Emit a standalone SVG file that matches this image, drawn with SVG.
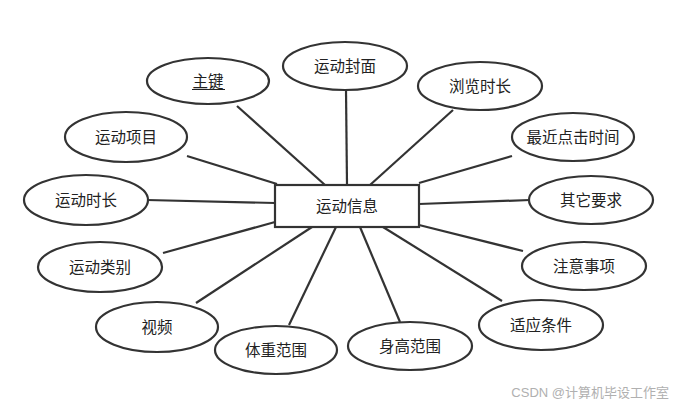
<svg xmlns="http://www.w3.org/2000/svg" width="677" height="406" viewBox="0 0 677 406">
<style>
.n{fill:#fff;stroke:#333;stroke-width:2.2}
.t{font-family:"Noto Sans CJK SC","Noto Sans",sans-serif;font-size:15.5px;fill:#222;text-anchor:middle}
.c line{stroke:#333;stroke-width:2.2}
.w{font-family:"Liberation Sans","Noto Sans CJK SC",sans-serif;font-size:13px;fill:#b0b0b0;text-anchor:end}
</style>
<rect width="677" height="406" fill="#fff"/>
<g id="connectors" class="c">
<line x1="237" y1="106" x2="325" y2="185"/>
<line x1="346" y1="90" x2="347" y2="185"/>
<line x1="453" y1="110" x2="370" y2="185"/>
<line x1="512" y1="156" x2="419" y2="183"/>
<line x1="530" y1="200" x2="419" y2="204"/>
<line x1="523" y1="251" x2="419" y2="225"/>
<line x1="502" y1="301" x2="383" y2="227"/>
<line x1="400" y1="322" x2="360" y2="227"/>
<line x1="289" y1="325" x2="336" y2="227"/>
<line x1="196" y1="303" x2="312" y2="227"/>
<line x1="163" y1="253" x2="275" y2="222"/>
<line x1="147" y1="200" x2="275" y2="203"/>
<line x1="187" y1="156" x2="277" y2="184"/>
</g>
<g id="center"><rect x="275" y="185" width="144" height="42" class="n"/><text x="347" y="212" class="t">运动信息</text></g>
<g id="zhujian"><ellipse cx="208" cy="81" rx="61" ry="23" class="n"/><text x="208" y="87" class="t">主键</text><line x1="192" y1="89.5" x2="225" y2="89.5" stroke="#222" stroke-width="1.2"/></g>
<g id="fengmian"><ellipse cx="345" cy="66" rx="62" ry="24" class="n"/><text x="345" y="72" class="t">运动封面</text></g>
<g id="liulan"><ellipse cx="480" cy="86" rx="62" ry="24" class="n"/><text x="480" y="92" class="t">浏览时长</text></g>
<g id="dianji"><ellipse cx="573" cy="137" rx="61" ry="24" class="n"/><text x="573" y="143" class="t">最近点击时间</text></g>
<g id="xiangmu"><ellipse cx="126" cy="137" rx="61" ry="25" class="n"/><text x="126" y="143" class="t">运动项目</text></g>
<g id="shichang"><ellipse cx="86" cy="200" rx="62" ry="25" class="n"/><text x="86" y="206" class="t">运动时长</text></g>
<g id="leibie"><ellipse cx="100" cy="267" rx="62" ry="25" class="n"/><text x="100" y="273" class="t">运动类别</text></g>
<g id="shipin"><ellipse cx="157" cy="327" rx="61" ry="25" class="n"/><text x="157" y="333" class="t">视频</text></g>
<g id="tizhong"><ellipse cx="276" cy="350" rx="61" ry="24" class="n"/><text x="276" y="356" class="t">体重范围</text></g>
<g id="shengao"><ellipse cx="410" cy="346" rx="62" ry="24" class="n"/><text x="410" y="352" class="t">身高范围</text></g>
<g id="qita"><ellipse cx="591" cy="200" rx="62" ry="24" class="n"/><text x="591" y="206" class="t">其它要求</text></g>
<g id="zhuyi"><ellipse cx="584" cy="266" rx="62" ry="24" class="n"/><text x="584" y="272" class="t">注意事项</text></g>
<g id="shiying"><ellipse cx="541" cy="325" rx="62" ry="25" class="n"/><text x="541" y="331" class="t">适应条件</text></g>
<text x="669" y="397" class="w">CSDN @计算机毕设工作室</text>
</svg>
